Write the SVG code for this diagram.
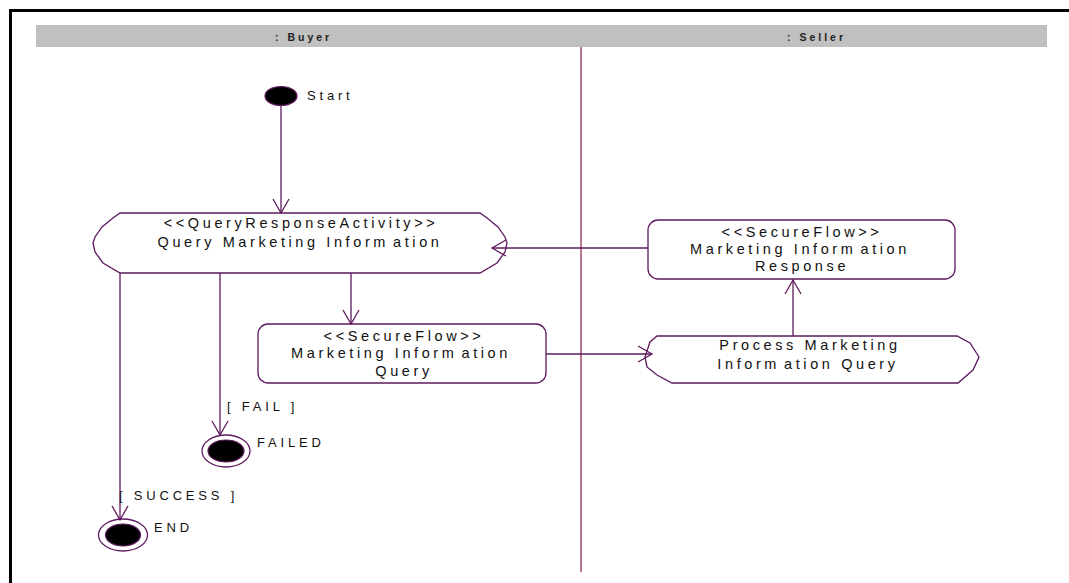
<svg xmlns="http://www.w3.org/2000/svg" width="1069" height="583" viewBox="0 0 1069 583">
  <style>
    .frame { fill: none; stroke: #000; stroke-width: 3; }
    .lane-head { fill: #c0c0c0; }
    .lane-label { font-family: "Liberation Sans", Arial, sans-serif; font-size: 10.5px; font-weight: bold; letter-spacing: 3px; fill: #222; }
    .divider { stroke: #800040; stroke-width: 1.1; }
    .shape { fill: #fff; stroke: #5e1a5e; stroke-width: 1.3; }
    .dot { fill: #000; stroke: #5e1a5e; stroke-width: 1.2; }
    .ring { fill: #fff; stroke: #5e1a5e; stroke-width: 1.3; }
    .txt { font-family: "Liberation Sans", Arial, sans-serif; font-size: 14.5px; letter-spacing: 3.6px; fill: #111; text-anchor: middle; }
    .lbl { font-family: "Liberation Sans", Arial, sans-serif; font-size: 13px; letter-spacing: 3.8px; fill: #111; }
    .edge { fill: none; stroke: #5e1a5e; stroke-width: 1.3; }
  </style>
  <defs>
    <marker id="open" markerUnits="userSpaceOnUse" markerWidth="32" markerHeight="32" viewBox="-16 -16 32 32" refX="0" refY="0" orient="auto">
      <path d="M-14,-8 L0,0 L-14,8" fill="none" stroke="#5e1a5e" stroke-width="1.3"/>
    </marker>
  </defs>

  <!-- page frame -->
  <path class="frame" d="M10.5,590 V10.5 H1075"/>

  <!-- swimlane headers -->
  <rect class="lane-head" x="36" y="25" width="1011" height="22"/>
  <text class="lane-label" x="275" y="40.5">: Buyer</text>
  <text class="lane-label" x="787" y="40.5">: Seller</text>
  <line class="divider" x1="581" y1="47" x2="581" y2="572"/>

  <!-- initial state -->
  <g id="start">
    <ellipse class="dot" cx="281" cy="96" rx="16" ry="9.5"/>
    <text class="lbl" x="307" y="100">Start</text>
  </g>

  <!-- buyer activity -->
  <g id="query-marketing-information">
    <path class="shape" d="M120,213 H480 L487,218 L498,227 L505,237 L507,243 L505,252 L497,263 L480,273 H120 L103,263 L95,252 L93,243 L95,237 L102,227 L113,218 Z"/>
    <text class="txt" x="301" y="228">&lt;&lt;QueryResponseActivity&gt;&gt;</text>
    <text class="txt" x="300" y="247">Query Marketing Inform<tspan dx="4">ation</tspan></text>
  </g>

  <!-- request object flow -->
  <g id="marketing-information-query">
    <rect class="shape" x="258" y="324" width="288" height="59" rx="10" ry="10"/>
    <text class="txt" x="404" y="341">&lt;&lt;SecureFlow&gt;&gt;</text>
    <text class="txt" x="401" y="358">Marketing Inform<tspan dx="4">ation</tspan></text>
    <text class="txt" x="404" y="376">Query</text>
  </g>

  <!-- seller activity -->
  <g id="process-marketing-information-query">
    <path class="shape" d="M657,336 H957 L970,343 L979,357 L973,370 L958,383 H672 L657,375 L647,367 L645,357 L650,342 Z"/>
    <text class="txt" x="810" y="350">Process Marketing</text>
    <text class="txt" x="808" y="369">Inform<tspan dx="4">ation Query</tspan></text>
  </g>

  <!-- response object flow -->
  <g id="marketing-information-response">
    <rect class="shape" x="648" y="220" width="307" height="59" rx="10" ry="10"/>
    <text class="txt" x="802" y="237">&lt;&lt;SecureFlow&gt;&gt;</text>
    <text class="txt" x="800" y="254">Marketing Inform<tspan dx="4">ation</tspan></text>
    <text class="txt" x="802" y="271">Response</text>
  </g>

  <!-- final states -->
  <g id="failed">
    <ellipse class="ring" cx="226" cy="451" rx="24" ry="16"/>
    <ellipse class="dot" cx="226" cy="451" rx="18" ry="11"/>
    <text class="lbl" x="257" y="446.5">FAILED</text>
  </g>
  <g id="end">
    <ellipse class="ring" cx="123" cy="535" rx="24.5" ry="16"/>
    <ellipse class="dot" cx="123" cy="535" rx="17.5" ry="11"/>
    <text class="lbl" x="154" y="531.5">END</text>
  </g>

  <!-- connectors, drawn over the nodes -->
  <g id="connectors">
    <line class="edge" x1="281" y1="105" x2="281" y2="213" marker-end="url(#open)"/>
    <line class="edge" x1="351" y1="273" x2="351" y2="324" marker-end="url(#open)"/>
    <line class="edge" x1="546" y1="354" x2="652" y2="354" marker-end="url(#open)"/>
    <line class="edge" x1="793" y1="336" x2="793" y2="280" marker-end="url(#open)"/>
    <line class="edge" x1="648" y1="248" x2="492" y2="248" marker-end="url(#open)"/>
    <line class="edge" x1="220" y1="273" x2="220" y2="435" marker-end="url(#open)"/>
    <line class="edge" x1="120" y1="273" x2="120" y2="520" marker-end="url(#open)"/>
    <text class="lbl" x="227" y="410.5">[ FAIL ]</text>
    <text class="lbl" x="119" y="499.5">[ SUCCESS ]</text>
  </g>
</svg>
